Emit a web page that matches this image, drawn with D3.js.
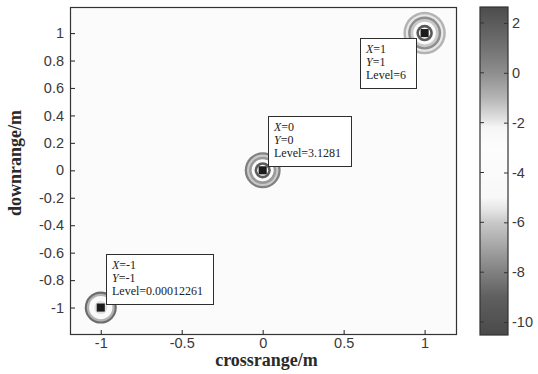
<!DOCTYPE html>
<html>
<head>
<meta charset="utf-8">
<script src="https://cdn.jsdelivr.net/npm/d3@7"></script>
<style>
  html, body { margin: 0; padding: 0; background: #fff; }
  svg { display: block; }
</style>
</head>
<body>
<svg id="chart" width="538" height="374"></svg>
<script>
// Point targets: position (m) and the level reported in each data tip
const targetX = [-1, 0, 1];
const targetY = [-1, 0, 1];
const targetLevel = ["0.00012261", "3.1281", "6"];

// Sidelobe rings around each target: outer radius (m) and level (dB), outer to inner
const ringsLowerLeft = [[0.099, -8.6], [0.086, -6.6], [0.072, -4.2], [0.040, -5.6]];
const ringsCentre    = [[0.111, -8.0], [0.097, -6.0], [0.084, -7.3], [0.068, -4.0], [0.050, -9.2], [0.034, -4.0]];
const ringsUpperRight= [[0.131, -6.6], [0.116, -5.4], [0.102, -7.6], [0.087, -6.0], [0.070, -4.0], [0.051, -9.4], [0.035, -4.0]];
const targetRings = [ringsLowerLeft, ringsCentre, ringsUpperRight];
const peakHalfSize = 0.025;   // half width of the bright cell at each target (m)
const backgroundLevel = -4;   // level of the empty scene (dB)

// Axis ticks
const xTicks = [-1, -0.5, 0, 0.5, 1];
const yTicks = [-1, -0.8, -0.6, -0.4, -0.2, 0, 0.2, 0.4, 0.6, 0.8, 1];
const cTicks = [-10, -8, -6, -4, -2, 0, 2];
const xDomain = [-1.19, 1.2];
const yDomain = [-1.2, 1.19];
const cDomain = [-10.52, 2.64];

// Grey colour map: dark at both ends, white through the middle
const cmapLevels = [-10.52, -9, -8, -7, -6, -5.5, -5, -3, -2.2, -1.8, -1, 0, 1, 2.64];
const cmapGreys  = ["#4a4a4a", "#5f5f5f", "#808080", "#a4a4a4", "#c9c9c9", "#e4e4e4", "#f8f8f8",
                    "#fdfdfd", "#f6f6f6", "#dedede", "#b4b4b4", "#8e8e8e", "#727272", "#4c4c4c"];

// Plain hyphen for negative numbers
const locale = d3.formatLocale({ decimal: ".", thousands: ",", grouping: [3], currency: ["", ""], minus: "-" });
const fmt = locale.format("~g");

const svg = d3.select("#chart");
const plot = { left: 70, right: 457, top: 7, bottom: 335 };
const bar = { left: 480, right: 508 };

const x = d3.scaleLinear().domain(xDomain).range([plot.left, plot.right]);
const y = d3.scaleLinear().domain(yDomain).range([plot.bottom, plot.top]);
const cy = d3.scaleLinear().domain(cDomain).range([plot.bottom, plot.top]);
const color = d3.scaleLinear().domain(cmapLevels).range(cmapGreys).clamp(true);

const axisInk = "#333";
const labelInk = "#3a3a3a";

const defs = svg.append("defs");
defs.append("filter").attr("id", "soft")
  .append("feGaussianBlur").attr("stdDeviation", 0.6);
defs.append("clipPath").attr("id", "plotClip")
  .append("rect")
  .attr("x", plot.left).attr("y", plot.top)
  .attr("width", plot.right - plot.left).attr("height", plot.bottom - plot.top);

// Scene background
svg.append("rect")
  .attr("x", plot.left).attr("y", plot.top)
  .attr("width", plot.right - plot.left).attr("height", plot.bottom - plot.top)
  .attr("fill", color(backgroundLevel));

const scene = svg.append("g").attr("clip-path", "url(#plotClip)")
  .append("g").attr("filter", "url(#soft)");

const pxPerMetre = x(1) - x(0);
targetX.forEach((tx, i) => {
  const g = scene.append("g");
  g.selectAll("circle")
    .data(targetRings[i])
    .join("circle")
    .attr("cx", x(tx))
    .attr("cy", y(targetY[i]))
    .attr("r", d => d[0] * pxPerMetre)
    .attr("fill", d => color(d[1]));
  g.append("rect")
    .attr("x", x(tx - peakHalfSize))
    .attr("y", y(targetY[i]) - peakHalfSize * pxPerMetre)
    .attr("width", x(tx + peakHalfSize) - x(tx - peakHalfSize))
    .attr("height", 2 * peakHalfSize * pxPerMetre)
    .attr("fill", "#1c1c1c");
});

// Axes: frame with inward ticks
svg.append("rect")
  .attr("x", plot.left + 0.5).attr("y", plot.top + 0.5)
  .attr("width", plot.right - plot.left - 1).attr("height", plot.bottom - plot.top - 1)
  .attr("fill", "none").attr("stroke", axisInk).attr("stroke-width", 1.2);

const tickFont = "'Liberation Sans', Arial, sans-serif";
const xAxis = svg.append("g")
  .attr("transform", `translate(0,${plot.bottom})`)
  .call(d3.axisBottom(x).tickValues(xTicks).tickSizeInner(-5).tickSizeOuter(0).tickPadding(3)
        .tickFormat(fmt));
const yAxis = svg.append("g")
  .attr("transform", `translate(${plot.left},0)`)
  .call(d3.axisLeft(y).tickValues(yTicks).tickSizeInner(-5).tickSizeOuter(0).tickPadding(6)
        .tickFormat(fmt));
[xAxis, yAxis].forEach(a => {
  a.select(".domain").remove();
  a.selectAll(".tick line").attr("stroke", axisInk).attr("stroke-width", 1.1);
  a.selectAll(".tick text")
    .attr("fill", labelInk).attr("font-family", tickFont).attr("font-size", 14.5);
});
xAxis.selectAll(".tick text").attr("dy", "0.7em");

// Axis titles
const titleFont = "'Liberation Serif', 'Times New Roman', serif";
svg.append("text")
  .attr("x", (plot.left + plot.right) / 2 + 3).attr("y", 366)
  .attr("text-anchor", "middle")
  .attr("font-family", titleFont).attr("font-weight", "bold").attr("font-size", 18)
  .attr("fill", "#2a2a2a")
  .text("crossrange/m");
svg.append("text")
  .attr("transform", `translate(21,${(plot.top + plot.bottom) / 2 - 8}) rotate(-90)`)
  .attr("text-anchor", "middle")
  .attr("font-family", titleFont).attr("font-weight", "bold").attr("font-size", 18)
  .attr("fill", "#2a2a2a")
  .text("downrange/m");

// Data tips
const tipFont = 12;
const lineGap = 13;
targetX.forEach((tx, i) => {
  const px = x(tx), py = y(targetY[i]);
  const tip = svg.append("g");
  const box = tip.append("rect")
    .attr("fill", "#fff").attr("stroke", "#2e2e2e").attr("stroke-width", 1);
  const lines = [
    [["X", true], ["=" + fmt(tx), false]],
    [["Y", true], ["=" + fmt(targetY[i]), false]],
    [["Level=" + targetLevel[i], false]]
  ];
  const texts = lines.map((parts, k) => {
    const t = tip.append("text")
      .attr("font-family", titleFont).attr("font-size", tipFont).attr("fill", "#222")
      .attr("y", 15 + k * lineGap);
    parts.forEach(([s, it]) => t.append("tspan").attr("font-style", it ? "italic" : "normal").text(s));
    return t;
  });
  const w = Math.ceil(d3.max(texts, t => t.node().getComputedTextLength())) + 15;
  const h = 50;
  let bx = px + 5, by = py - 4 - h;
  if (bx + w > plot.right - 2 || by < plot.top + 2) { bx = px - 9 - w; by = py + 5; }
  box.attr("x", 0.5).attr("y", 0.5).attr("width", w).attr("height", h);
  texts.forEach(t => t.attr("x", 6));
  tip.attr("transform", `translate(${Math.round(bx)},${Math.round(by)})`);
});

// Colour bar
const grad = defs.append("linearGradient").attr("id", "cbar")
  .attr("gradientUnits", "userSpaceOnUse")
  .attr("x1", 0).attr("x2", 0).attr("y1", cy(cDomain[0])).attr("y2", cy(cDomain[1]));
cmapLevels.forEach((v, k) => {
  grad.append("stop")
    .attr("offset", (v - cDomain[0]) / (cDomain[1] - cDomain[0]))
    .attr("stop-color", cmapGreys[k]);
});
svg.append("rect")
  .attr("x", bar.left).attr("y", cy(cDomain[1]))
  .attr("width", bar.right - bar.left).attr("height", cy(cDomain[0]) - cy(cDomain[1]))
  .attr("fill", "url(#cbar)")
  .attr("stroke", axisInk).attr("stroke-width", 1.2);

const cAxis = svg.append("g")
  .attr("transform", `translate(${bar.right},0)`)
  .call(d3.axisRight(cy).tickValues(cTicks).tickSizeInner(-4).tickSizeOuter(0).tickPadding(4)
        .tickFormat(fmt));
cAxis.select(".domain").remove();
cAxis.selectAll(".tick line").attr("stroke", axisInk).attr("stroke-width", 1);
cAxis.selectAll(".tick text")
  .attr("fill", labelInk).attr("font-family", tickFont).attr("font-size", 14.5);
svg.append("g").selectAll("line")
  .data(cTicks).join("line")
  .attr("x1", bar.left).attr("x2", bar.left + 4)
  .attr("y1", d => cy(d)).attr("y2", d => cy(d))
  .attr("stroke", axisInk).attr("stroke-width", 1);
</script>
</body>
</html>
